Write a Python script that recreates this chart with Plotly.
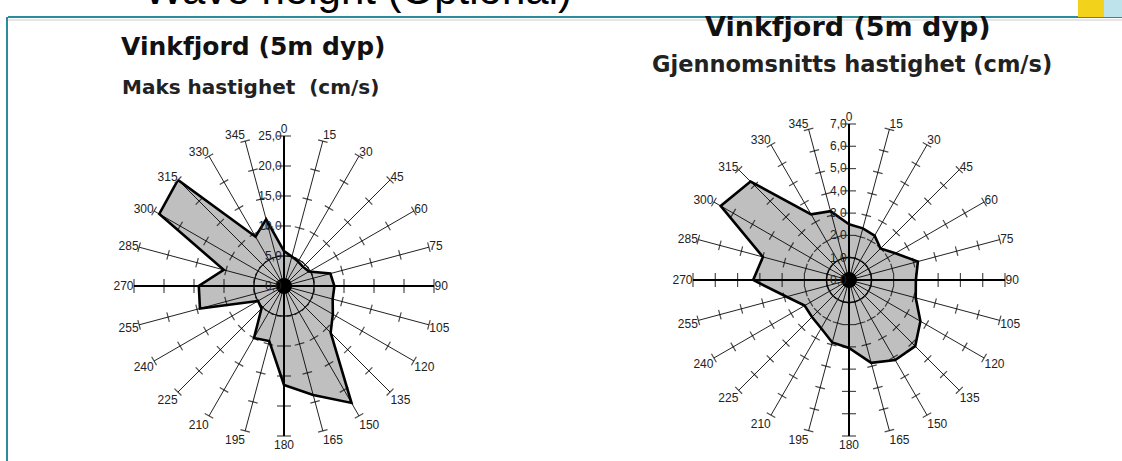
import plotly.graph_objects as go

# ---------------- data ----------------
directions = list(range(0, 360, 15))
direction_labels = [str(d) for d in directions]

# Maks hastighet (cm/s) per retning
maks_hastighet = [5.8, 5.1, 4.7, 4.5, 4.8, 8.0, 8.4, 8.4, 9.4, 11.0, 22.5, 18.8,
                  16.5, 9.5, 10.0, 5.3, 5.0, 14.5, 14.2, 10.4, 24.0, 25.0, 9.5, 11.5]
# Gjennomsnitts hastighet (cm/s) per retning
snitt_hastighet = [2.5, 2.4, 2.3, 2.0, 2.4, 3.2, 3.0, 3.1, 3.7, 4.2, 4.15, 3.85,
                   3.05, 2.9, 2.5, 2.35, 2.3, 2.9, 4.3, 4.0, 6.65, 6.25, 3.4, 3.2]

maks_ticks = [0, 5, 10, 15, 20, 25]
snitt_ticks = [0, 1, 2, 3, 4, 5, 6, 7]
maks_ring = 5
snitt_ring = 1

slide_title = "Wave height (Optional)"
chart_title = "Vinkfjord (5m dyp)"
left_subtitle = "Maks hastighet  (cm/s)"
right_subtitle = "Gjennomsnitts hastighet (cm/s)"

W, H = 1122, 461
fig = go.Figure()


def add_rose(polar_id, values, ticks, ring):
    rmax = ticks[-1]
    ring_theta = list(range(0, 361, 3))
    fig.add_trace(go.Scatterpolar(
        r=[ring] * len(ring_theta), theta=ring_theta, mode="lines",
        line=dict(color="#333333", width=1), subplot=polar_id,
        showlegend=False, hoverinfo="skip"))
    fig.add_trace(go.Scatterpolar(
        r=values + [values[0]], theta=directions + [directions[0]],
        mode="lines", fill="toself", fillcolor="rgba(0,0,0,0.25)",
        line=dict(color="black", width=2.6), subplot=polar_id,
        showlegend=False))
    r_main, th_main = [], []
    for d in directions:
        if d % 90 == 0:
            r_main += [0, rmax, None]
            th_main += [d, d, None]
    fig.add_trace(go.Scatterpolar(
        r=r_main, theta=th_main, mode="lines",
        line=dict(color="black", width=2), subplot=polar_id,
        showlegend=False, hoverinfo="skip"))
    tr, tt, ta, ts = [], [], [], []
    for d in directions:
        for t in ticks[1:]:
            tr.append(t)
            tt.append(d)
            ta.append(d)
            ts.append(10 if d % 90 == 0 else 7)
    fig.add_trace(go.Scatterpolar(
        r=tr, theta=tt, mode="markers",
        marker=dict(symbol="line-ew", size=ts, angle=ta,
                    line=dict(color="black", width=1.2)),
        subplot=polar_id, showlegend=False, hoverinfo="skip"))
    fig.add_trace(go.Scatterpolar(
        r=[ticks[0]], theta=[directions[0]], mode="markers",
        marker=dict(color="black", size=16), subplot=polar_id,
        showlegend=False, hoverinfo="skip"))


add_rose("polar", maks_hastighet, maks_ticks, maks_ring)
add_rose("polar2", snitt_hastighet, snitt_ticks, snitt_ring)


def domain(cx, cy, rad):
    return dict(x=[(cx - rad) / W, (cx + rad) / W],
                y=[1 - (cy + rad) / H, 1 - (cy - rad) / H])


def angular():
    return dict(rotation=90, direction="clockwise", tickmode="array",
                tickvals=directions, ticktext=direction_labels,
                showline=False, showgrid=True, gridcolor="#222222",
                gridwidth=1, ticks="",
                tickfont=dict(family="Liberation Sans", size=12, color="#222222"))


def radial(ticks):
    return dict(range=[ticks[0], ticks[-1]], tickmode="array", tickvals=ticks,
                tickformat=".1f", angle=90, side="counterclockwise",
                tickangle=90,
                showline=False, showgrid=False, ticks="",
                tickfont=dict(family="Liberation Sans", size=12, color="#222222"))


teal = "#2b8c9b"
fig.update_layout(
    width=W, height=H, autosize=False,
    margin=dict(l=0, r=0, t=0, b=0),
    paper_bgcolor="white",
    separators=",.",
    polar=dict(domain=domain(284, 286, 150), bgcolor="white",
               angularaxis=angular(), radialaxis=radial(maks_ticks)),
    polar2=dict(domain=domain(849, 280, 156), bgcolor="white",
                angularaxis=angular(), radialaxis=radial(snitt_ticks)),
    shapes=[
        dict(type="line", xref="paper", yref="paper", x0=8 / W, x1=1,
             y0=1 - 17 / H, y1=1 - 17 / H, line=dict(color=teal, width=2)),
        dict(type="line", xref="paper", yref="paper", x0=8 / W, x1=1,
             y0=1 - 20 / H, y1=1 - 20 / H, line=dict(color="#e6e6e6", width=2)),
        dict(type="line", xref="paper", yref="paper", x0=7 / W, x1=7 / W,
             y0=0, y1=1 - 17 / H, line=dict(color=teal, width=2)),
        dict(type="rect", xref="paper", yref="paper", x0=1078 / W, x1=1104 / W,
             y0=1 - 17 / H, y1=1, line=dict(width=0), fillcolor="#f2d21b"),
        dict(type="rect", xref="paper", yref="paper", x0=1104 / W, x1=1,
             y0=1 - 17 / H, y1=1, line=dict(width=0), fillcolor="#bfe3ea"),
    ],
    annotations=[
        dict(text=slide_title, xref="paper", yref="paper", x=358 / W,
             y=1 - 15 / H, xanchor="center", yanchor="bottom", showarrow=False,
             font=dict(family="Liberation Sans", size=42, color="black")),
        dict(text="<b>" + chart_title + "</b>", xref="paper", yref="paper",
             x=253 / W, y=1 - 47 / H, xanchor="center", yanchor="middle",
             showarrow=False,
             font=dict(family="DejaVu Sans", size=25, color="#111111")),
        dict(text="<b>" + left_subtitle + "</b>", xref="paper", yref="paper",
             x=250 / W, y=1 - 87 / H, xanchor="center", yanchor="middle",
             showarrow=False,
             font=dict(family="DejaVu Sans", size=20, color="#222222")),
        dict(text="<b>" + chart_title + "</b>", xref="paper", yref="paper",
             x=848 / W, y=1 - 26 / H, xanchor="center", yanchor="middle",
             showarrow=False,
             font=dict(family="DejaVu Sans", size=27, color="#111111")),
        dict(text="<b>" + right_subtitle + "</b>", xref="paper", yref="paper",
             x=852 / W, y=1 - 64 / H, xanchor="center", yanchor="middle",
             showarrow=False,
             font=dict(family="DejaVu Sans", size=22.5, color="#222222")),
    ],
)

fig.write_html(
    "out.html",
    config={"displayModeBar": False},
    post_script="document.body.style.margin='0';document.body.style.overflow='hidden';",
)
